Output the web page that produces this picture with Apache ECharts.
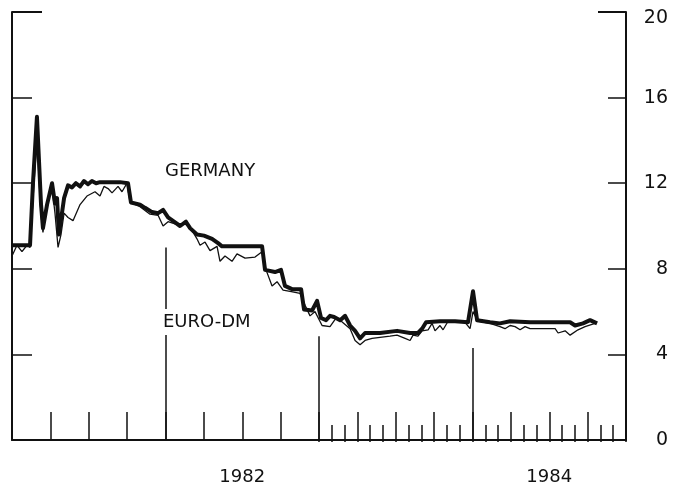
<!DOCTYPE html>
<html>
<head>
<meta charset="utf-8">
<script src="https://cdn.jsdelivr.net/npm/echarts@6/dist/echarts.min.js"></script>
<style>
  html, body { margin: 0; padding: 0; background: #fff; }
  #chart { width: 689px; height: 486px; }
</style>
</head>
<body>
<div id="chart"></div>
<script>
// months counted from Jan 1981 (0) to Jan 1985 (48)
const germanyMonths = [0, 1.41, 1.64, 1.95, 2.27, 2.42, 2.74, 3.13, 3.36, 3.52, 3.67, 4.07, 4.38, 4.69, 5.00, 5.32, 5.63, 5.94, 6.25, 6.57, 6.88, 7.66, 8.44, 9.07, 9.30, 10.01, 10.40, 10.95, 11.42, 11.81, 12.20, 12.67, 13.14, 13.60, 13.92, 14.46, 15.01, 15.64, 16.11, 16.42, 17.83, 19.55, 19.78, 20.56, 21.03, 21.34, 21.89, 22.60, 22.83, 23.46, 23.85, 24.16, 24.55, 24.86, 25.18, 25.65, 26.04, 26.43, 26.82, 27.21, 27.60, 28.77, 30.10, 31.12, 31.74, 32.06, 32.37, 33.46, 34.64, 35.65, 36.04, 36.36, 37.37, 38.15, 38.94, 40.50, 42.06, 43.63, 44.02, 44.64, 45.19, 45.74]
const germanyRates = [9.1, 9.1, 12.0, 15.1, 11.0, 9.9, 11.0, 12.0, 11.05, 11.3, 9.6, 11.3, 11.9, 11.8, 12.0, 11.85, 12.1, 11.95, 12.1, 12.0, 12.05, 12.05, 12.05, 12.0, 11.1, 11.0, 10.85, 10.65, 10.6, 10.75, 10.4, 10.2, 10.0, 10.2, 9.9, 9.6, 9.55, 9.4, 9.2, 9.05, 9.05, 9.05, 7.95, 7.85, 7.95, 7.2, 7.05, 7.05, 6.1, 6.05, 6.5, 5.7, 5.6, 5.8, 5.75, 5.6, 5.8, 5.35, 5.1, 4.75, 5.0, 5.0, 5.1, 5.0, 5.0, 5.2, 5.5, 5.55, 5.55, 5.5, 6.95, 5.6, 5.5, 5.45, 5.55, 5.5, 5.5, 5.5, 5.35, 5.45, 5.6, 5.45]

const euroMonths = [0, 0.39, 0.78, 1.17, 1.41, 1.72, 1.95, 2.27, 2.42, 2.81, 3.13, 3.36, 3.60, 3.83, 4.07, 4.38, 4.77, 5.32, 5.86, 6.49, 6.88, 7.19, 7.51, 7.82, 8.29, 8.60, 8.99, 9.23, 10.01, 10.79, 11.42, 11.81, 12.20, 12.74, 13.53, 14.07, 14.46, 14.70, 15.09, 15.48, 16.03, 16.26, 16.65, 17.20, 17.59, 18.22, 19.00, 19.55, 19.86, 20.33, 20.72, 21.19, 21.74, 22.52, 22.91, 23.30, 23.69, 24.24, 24.86, 25.33, 25.65, 26.43, 26.82, 27.21, 27.60, 28.15, 28.77, 29.55, 30.10, 30.73, 31.12, 31.35, 31.74, 32.06, 32.53, 32.84, 33.07, 33.46, 33.70, 34.09, 35.42, 35.81, 36.04, 36.43, 37.37, 38.15, 38.54, 38.94, 39.33, 39.72, 40.11, 40.50, 42.46, 42.69, 43.24, 43.63, 44.25, 44.80, 45.58]
const euroRates = [8.6, 9.1, 8.8, 9.1, 9.0, 12.0, 14.0, 10.5, 9.7, 11.2, 11.8, 10.6, 9.0, 9.6, 10.6, 10.4, 10.25, 11.0, 11.4, 11.6, 11.4, 11.85, 11.75, 11.55, 11.85, 11.6, 12.0, 11.1, 10.9, 10.55, 10.5, 10.0, 10.2, 10.1, 10.1, 9.8, 9.4, 9.1, 9.25, 8.85, 9.05, 8.35, 8.6, 8.35, 8.7, 8.5, 8.55, 8.8, 7.95, 7.2, 7.4, 7.0, 6.95, 6.85, 6.3, 5.8, 6.0, 5.35, 5.3, 5.7, 5.6, 5.2, 4.65, 4.45, 4.65, 4.75, 4.8, 4.85, 4.9, 4.75, 4.65, 4.9, 4.85, 5.1, 5.15, 5.45, 5.1, 5.35, 5.15, 5.55, 5.5, 5.2, 6.0, 5.55, 5.45, 5.3, 5.2, 5.35, 5.3, 5.15, 5.3, 5.2, 5.2, 5.0, 5.1, 4.9, 5.15, 5.3, 5.45]

// year boundary lines (month, top value)
const yearLineMonths = [12, 24, 36]
const yearLineTops = [9.0, 4.85, 4.3]

const yearLabelPos = [18, 42]
const yearLabels = ['1982', '1984']

const font = 'DejaVu Sans'
const ink = '#111'

const chart = echarts.init(document.getElementById('chart'), null, { renderer: 'canvas' })

const germanyData = germanyMonths.map((m, i) => [m, germanyRates[i]])
const euroData = euroMonths.map((m, i) => [m, euroRates[i]])
const yearLines = yearLineMonths.map((m, i) => [{ coord: [m, yearLineTops[i]] }, { coord: [m, 0] }])

const gridLeft = 12
const gridRight = 63
const monthPx = (689 - gridLeft - gridRight) / 48

let options = {
  backgroundColor: '#fff',
  animation: false,
  grid: [
    { left: gridLeft, right: gridRight, top: 12, bottom: 44 },
    // second grid only for the monthly ticks of 1983-84
    { left: gridLeft + 24 * monthPx, right: gridRight, top: 12, bottom: 44 }
  ],
  xAxis: [
    {
      type: 'value', gridIndex: 0, min: 0, max: 48, interval: 3,
      axisLine: { show: true, onZero: false, lineStyle: { color: ink, width: 2 } },
      axisTick: { show: true, inside: true, length: 28, lineStyle: { color: ink, width: 1.5 } },
      axisLabel: { show: false },
      splitLine: { show: false }
    },
    {
      type: 'value', gridIndex: 0, min: 0, max: 48, interval: 6, position: 'bottom',
      axisLine: { show: false, onZero: false },
      axisTick: { show: false },
      axisLabel: {
        show: true, margin: 28, fontSize: 18, fontFamily: font, color: ink,
        formatter: v => {
          let k = yearLabelPos.indexOf(v)
          return k >= 0 ? yearLabels[k] : ''
        }
      },
      splitLine: { show: false }
    },
    {
      type: 'value', gridIndex: 1, min: 24, max: 48, interval: 1,
      axisLine: { show: false, onZero: false },
      axisTick: { show: true, inside: true, length: 17, lineStyle: { color: ink, width: 1.5 } },
      axisLabel: { show: false },
      splitLine: { show: false }
    }
  ],
  yAxis: [
    {
      type: 'value', gridIndex: 0, position: 'right', min: 0, max: 20, interval: 4,
      axisLine: { show: true, onZero: false, lineStyle: { color: ink, width: 2 } },
      axisTick: { show: true, inside: true, length: 18, lineStyle: { color: ink, width: 1.5 } },
      axisLabel: {
        show: true, align: 'right', margin: 42, fontSize: 19, fontFamily: font, color: ink,
        formatter: v => v === 20 ? '{top|20}' : String(v),
        rich: { top: { fontSize: 19, fontFamily: font, color: ink, padding: [12, 0, 0, 0] } }
      },
      splitLine: { show: false }
    },
    {
      type: 'value', gridIndex: 0, position: 'left', min: 0, max: 20, interval: 4,
      axisLine: { show: true, onZero: false, lineStyle: { color: ink, width: 2 } },
      axisTick: { show: true, inside: true, length: 20, lineStyle: { color: ink, width: 1.5 } },
      axisLabel: { show: false },
      splitLine: { show: false }
    },
    {
      // longer ticks at the top corners
      type: 'value', gridIndex: 0, position: 'right', min: 0, max: 20, interval: 20,
      axisLine: { show: false, onZero: false },
      axisTick: { show: true, inside: true, length: 28, lineStyle: { color: ink, width: 2 } },
      axisLabel: { show: false },
      splitLine: { show: false }
    },
    {
      type: 'value', gridIndex: 0, position: 'left', min: 0, max: 20, interval: 20,
      axisLine: { show: false, onZero: false },
      axisTick: { show: true, inside: true, length: 30, lineStyle: { color: ink, width: 2 } },
      axisLabel: { show: false },
      splitLine: { show: false }
    },
    {
      type: 'value', gridIndex: 1, min: 0, max: 20, show: false
    }
  ],
  graphic: [
    {
      type: 'text', left: 165, top: 162, z: 100,
      style: { text: 'GERMANY', font: '18px "DejaVu Sans"', fill: ink }
    },
    {
      type: 'text', left: 161, top: 309, z: 100,
      style: {
        text: 'EURO-DM', font: '18px "DejaVu Sans"', fill: ink,
        backgroundColor: '#fff', padding: [4, 2, 4, 2]
      }
    }
  ],
  series: [
    {
      name: 'GERMANY',
      type: 'line',
      xAxisIndex: 0, yAxisIndex: 0,
      data: germanyData,
      showSymbol: false,
      lineStyle: { color: ink, width: 4, join: 'round' },
      markLine: {
        silent: true,
        symbol: 'none',
        label: { show: false },
        lineStyle: { color: ink, width: 1.5, type: 'solid' },
        data: yearLines
      },
      z: 2
    },
    {
      name: 'EURO-DM',
      type: 'line',
      xAxisIndex: 0, yAxisIndex: 0,
      data: euroData,
      showSymbol: false,
      lineStyle: { color: ink, width: 1.3 },
      z: 3
    }
  ]
}

chart.setOption(options)
</script>
</body>
</html>
